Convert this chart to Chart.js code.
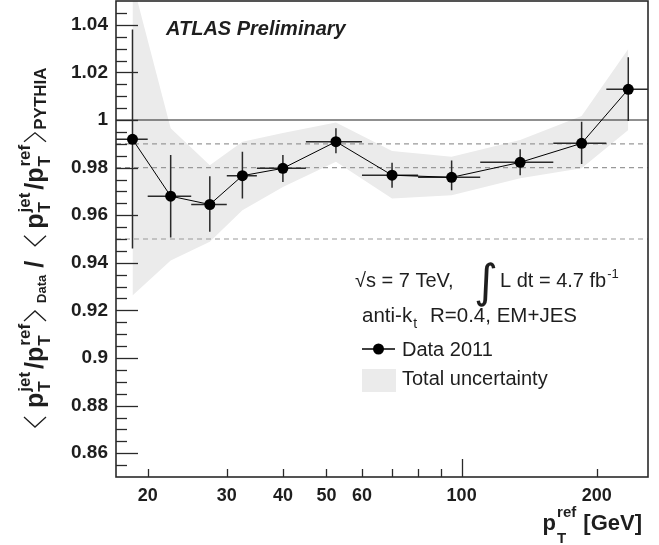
<!DOCTYPE html>
<html>
<head>
<meta charset="utf-8">
<script src="https://cdn.jsdelivr.net/npm/chart.js@4.4.1/dist/chart.umd.min.js"></script>
<style>
  html, body { margin: 0; padding: 0; background: #fff; }
  #wrap { width: 659px; height: 545px; }
</style>
</head>
<body>
<div id="wrap"><canvas id="ratio-chart"></canvas></div>
<script>
// pT^ref bins [GeV] and bin centres
const binEdges = [17, 20, 25, 30, 35, 45, 60, 80, 110, 160, 210, 260]
const ptCenters = [18.5, 22.5, 27.5, 32.5, 40, 52.5, 70, 95, 135, 185, 235]

// Data 2011 / PYTHIA ratio with its error bar ends
const ratio = [0.9919, 0.968, 0.9645, 0.9766, 0.9797, 0.9909, 0.9768, 0.9759, 0.9822, 0.9902, 1.0129]
const ratioErrHigh = [1.038, 0.9853, 0.9764, 0.9867, 0.9853, 0.9965, 0.982, 0.983, 0.9877, 0.9993, 1.0264]
const ratioErrLow = [0.946, 0.9506, 0.953, 0.967, 0.974, 0.986, 0.9715, 0.9705, 0.9768, 0.9815, 0.9996]

// total uncertainty band edges
const uncHigh = [1.058, 0.9965, 0.981, 0.9909, 0.9945, 0.999, 0.987, 0.9846, 0.9916, 1.0017, 1.0298]
const uncLow = [0.9263, 0.941, 0.9488, 0.9621, 0.9719, 0.9825, 0.967, 0.9684, 0.9755, 0.9797, 0.9958]

// horizontal reference lines
const dashedLines = [0.99, 0.98, 0.95]
const unityLine = 1

// axis ticks
const xTickLabels = [20, 30, 40, 50, 60, 100, 200]
const xMinorTicks = [70, 80, 90]
const yTickLabels = [0.86, 0.88, 0.9, 0.92, 0.94, 0.96, 0.98, 1, 1.02, 1.04]

const FONT = '"Liberation Sans", Arial, Helvetica, sans-serif'
const INK = '#1e1e1e'
const BAND = '#ebebeb'

const xMin = 17, xMax = 260

function hline(y, dash, color, width) {
  return {
    data: [{ x: xMin, y: y }, { x: xMax, y: y }],
    borderColor: color,
    borderWidth: width,
    borderDash: dash,
    pointRadius: 0,
    fill: false,
  }
}

// rich text: parts of {t, font, dy}, {t, font, sup, sub}, {space} or {bracket}
function drawRich(ctx, parts, x, y, draw) {
  let cx = x
  parts.forEach(p => {
    if (p.space) {
      cx += p.space
      return
    }
    if (p.bracket) {
      if (draw) {
        ctx.save()
        ctx.lineWidth = 1.3
        ctx.strokeStyle = INK
        ctx.beginPath()
        const w = p.w, h = p.h, b = p.b || 0
        if (p.bracket === '<') {
          ctx.moveTo(cx + w, y - h + b)
          ctx.lineTo(cx, y - h / 2 + b)
          ctx.lineTo(cx + w, y + b)
        } else {
          ctx.moveTo(cx, y - h + b)
          ctx.lineTo(cx + w, y - h / 2 + b)
          ctx.lineTo(cx, y + b)
        }
        ctx.stroke()
        ctx.restore()
      }
      cx += p.w + (p.gap || 0)
      return
    }
    ctx.font = p.font
    const w = ctx.measureText(p.t).width
    if (draw) ctx.fillText(p.t, cx, y + (p.dy || 0))
    cx += w
    if (p.sup || p.sub) {
      let sw = 0
      ctx.font = p.sfont
      if (p.sup) {
        if (draw) ctx.fillText(p.sup, cx + 1, y + p.supDy)
        sw = Math.max(sw, ctx.measureText(p.sup).width)
      }
      if (p.sub) {
        if (draw) ctx.fillText(p.sub, cx + 1, y + p.subDy)
        sw = Math.max(sw, ctx.measureText(p.sub).width)
      }
      cx += sw + 2 + (p.extra || 0)
    }
  })
  return cx - x
}

const decorPlugin = {
  id: 'decor',
  beforeDatasetDraw(chart, args) {
    if (args.index !== 0) return
    const { ctx, chartArea: a, scales: { x, y } } = chart
    ctx.save()
    ctx.beginPath()
    ctx.rect(a.left, a.top, a.right - a.left, a.bottom - a.top)
    ctx.clip()
    ctx.strokeStyle = '#2a2a2a'
    ctx.lineWidth = 1.5
    ratio.forEach((r, i) => {
      const py = y.getPixelForValue(r)
      const px = x.getPixelForValue(ptCenters[i])
      ctx.beginPath()
      ctx.moveTo(x.getPixelForValue(binEdges[i]), py)
      ctx.lineTo(x.getPixelForValue(binEdges[i + 1]), py)
      ctx.moveTo(px, y.getPixelForValue(ratioErrHigh[i]))
      ctx.lineTo(px, y.getPixelForValue(ratioErrLow[i]))
      ctx.stroke()
    })
    ctx.restore()
  },
  afterDatasetsDraw(chart) {
    const { ctx, chartArea: a, scales: { x, y } } = chart
    ctx.save()
    ctx.strokeStyle = '#2a2a2a'
    ctx.lineWidth = 1.3
    // y ticks, every 0.005, long at 0.02
    for (let k = 171; k <= 209; k++) {
      const py = Math.round(y.getPixelForValue(k / 200)) + 0.5
      const len = k % 4 === 0 ? 22 : 11
      ctx.beginPath()
      ctx.moveTo(a.left, py)
      ctx.lineTo(a.left + len, py)
      ctx.stroke()
    }
    xTickLabels.concat(xMinorTicks).forEach(v => {
      const px = Math.round(x.getPixelForValue(v)) + 0.5
      const len = v === 100 ? 18 : 8
      ctx.beginPath()
      ctx.moveTo(px, a.bottom)
      ctx.lineTo(px, a.bottom - len)
      ctx.stroke()
    })
    ctx.lineWidth = 1.6
    ctx.strokeRect(a.left, a.top, a.right - a.left, a.bottom - a.top)
    ctx.restore()
  },
  afterDraw(chart) {
    const { ctx } = chart
    ctx.save()
    ctx.fillStyle = INK
    ctx.textBaseline = 'alphabetic'
    ctx.textAlign = 'left'

    ctx.font = 'italic bold 20px ' + FONT
    ctx.fillText('ATLAS Preliminary', 166, 35)

    // sqrt(s) line
    ctx.font = '20px ' + FONT
    ctx.fillText('\u221As = 7 TeV,', 355, 287)
    ctx.font = '46px "DejaVu Sans", ' + FONT
    ctx.fillText('\u222B', 474, 297)
    ctx.font = '20px ' + FONT
    ctx.fillText('L dt = 4.7 fb', 500, 287)
    const fbw = ctx.measureText('L dt = 4.7 fb').width
    ctx.font = '13px ' + FONT
    ctx.fillText('-1', 500 + fbw + 1, 278)

    ctx.font = '20.5px ' + FONT
    ctx.fillText('anti-k', 362, 322)
    const akw = ctx.measureText('anti-k').width
    ctx.font = '14px ' + FONT
    ctx.fillText('t', 362 + akw + 1, 328)
    ctx.font = '20.5px ' + FONT
    ctx.fillText('R=0.4, EM+JES', 430, 322)

    // legend
    ctx.strokeStyle = '#000'
    ctx.lineWidth = 1.5
    ctx.beginPath()
    ctx.moveTo(362, 349)
    ctx.lineTo(395, 349)
    ctx.stroke()
    ctx.fillStyle = '#000'
    ctx.beginPath()
    ctx.arc(378.5, 349, 5.5, 0, Math.PI * 2)
    ctx.fill()
    ctx.fillStyle = BAND
    ctx.fillRect(362, 369, 34, 23)
    ctx.fillStyle = INK
    ctx.font = '20px ' + FONT
    ctx.fillText('Data 2011', 402, 356)
    ctx.fillText('Total uncertainty', 402, 385)

    // x title
    const bold = 'bold 22px ' + FONT
    const sbold = 'bold 15px ' + FONT
    const xParts = [
      { t: 'p', font: bold, sfont: sbold, sup: 'ref', supDy: -13, sub: 'T', subDy: 13 },
      { t: ' [GeV]', font: bold },
    ]
    const xw = drawRich(ctx, xParts, 0, 0, false)
    drawRich(ctx, xParts, 642 - xw, 530, true)

    // y title, rotated
    const yb = 'bold 25px ' + FONT
    const ys = 'bold 17px ' + FONT
    const pj = { t: 'p', font: yb, sfont: ys, sup: 'jet', supDy: -13, sub: 'T', subDy: 7, extra: 2 }
    const pr = { t: 'p', font: yb, sfont: ys, sup: 'ref', supDy: -13, sub: 'T', subDy: 7, extra: 2 }
    const yParts = [
      { bracket: '<', w: 10, h: 22, b: 3, gap: 9 },
      pj, { t: '/', font: yb }, pr,
      { bracket: '>', w: 10, h: 22, b: 3, gap: 8 },
      { t: 'Data', font: 'bold 13px ' + FONT, dy: 3 },
      { space: 7 },
      { t: '/', font: yb },
      { space: 15 },
      { bracket: '<', w: 10, h: 22, b: 3, gap: 7 },
      pj, { t: '/', font: yb }, pr,
      { bracket: '>', w: 9, h: 22, b: 3, gap: 3 },
      { t: 'PYTHIA', font: 'bold 17px ' + FONT, dy: 3 },
    ]
    ctx.translate(43, 427)
    ctx.rotate(-Math.PI / 2)
    drawRich(ctx, yParts, 0, 0, true)
    ctx.restore()
  },
}

const ratioCtx = document.getElementById('ratio-chart')
window.ratioChart = new Chart(ratioCtx, {
  type: 'line',
  data: {
    datasets: [
      {
        label: 'Data 2011',
        data: ptCenters.map((v, i) => ({ x: v, y: ratio[i] })),
        borderColor: '#000',
        borderWidth: 1,
        pointRadius: 5.5,
        pointBackgroundColor: '#000',
        pointBorderWidth: 0,
        fill: false,
      },
      hline(unityLine, [], '#222', 1.2),
      ...dashedLines.map(v => hline(v, [5, 4], '#999', 1.2)),
      {
        label: 'Total uncertainty high',
        data: ptCenters.map((v, i) => ({ x: v, y: uncHigh[i] })),
        borderWidth: 0,
        pointRadius: 0,
        fill: false,
      },
      {
        label: 'Total uncertainty',
        data: ptCenters.map((v, i) => ({ x: v, y: uncLow[i] })),
        borderWidth: 0,
        pointRadius: 0,
        backgroundColor: BAND,
        fill: '-1',
      },
    ],
  },
  options: {
    responsive: true,
    maintainAspectRatio: false,
    animation: false,
    layout: { autoPadding: false, padding: { top: 1, right: 11, left: 0, bottom: 0 } },
    plugins: { legend: { display: false }, tooltip: { enabled: false } },
    scales: {
      x: {
        type: 'logarithmic',
        min: xMin,
        max: xMax,
        afterBuildTicks: s => { s.ticks = xTickLabels.map(v => ({ value: v })) },
        afterFit: s => { s.height = 68; s.paddingLeft = 0; s.paddingRight = 0 },
        grid: { display: false, drawTicks: false },
        border: { display: false },
        ticks: {
          autoSkip: false,
          maxRotation: 0,
          padding: 8,
          color: INK,
          font: { family: FONT, size: 18, weight: 'bold' },
          callback: v => String(v),
        },
      },
      y: {
        min: 0.85,
        max: 1.05,
        afterBuildTicks: s => { s.ticks = yTickLabels.map(v => ({ value: v })) },
        afterFit: s => { s.width = 116; s.paddingTop = 0; s.paddingBottom = 0 },
        grid: { display: false, drawTicks: false },
        border: { display: false },
        ticks: {
          autoSkip: false,
          padding: 8,
          color: INK,
          font: { family: FONT, size: 19, weight: 'bold', lineHeight: 0.3 },
          callback: v => String(+v.toFixed(2)),
        },
      },
    },
  },
  plugins: [decorPlugin],
})
</script>
</body>
</html>
